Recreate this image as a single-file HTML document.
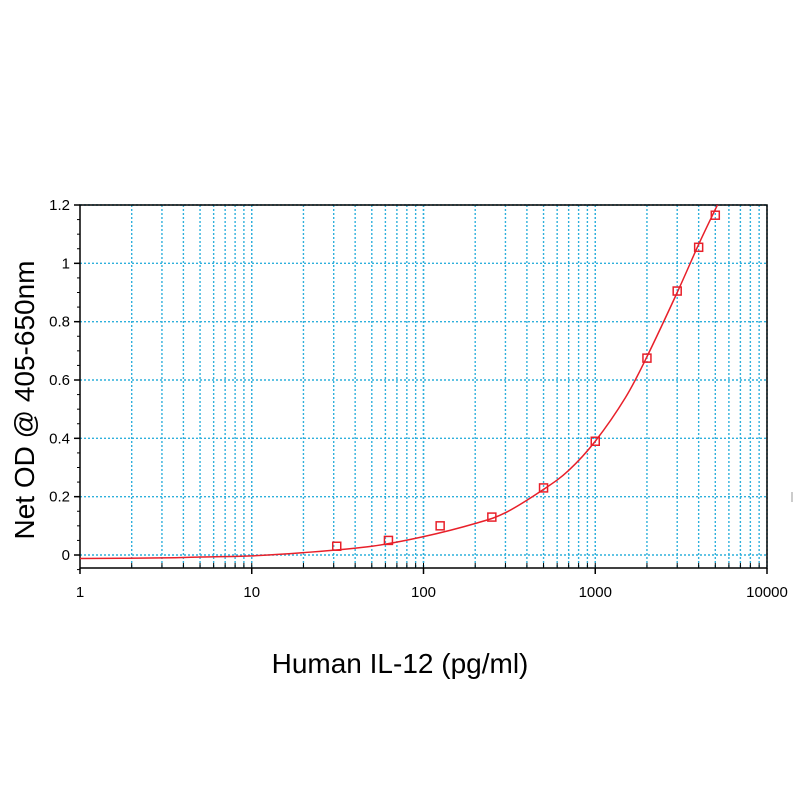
<!DOCTYPE html>
<html><head><meta charset="utf-8"><style>
body{margin:0;background:#fff;}
svg text{font-family:"Liberation Sans",Arial,sans-serif;fill:#000;}
</style></head><body>
<svg width="800" height="800" viewBox="0 0 800 800" xmlns="http://www.w3.org/2000/svg" id="chart">
<g id="grid"></g>
<g id="axes"></g>
<g id="series"></g>
<text x="0" y="0" font-size="28" text-anchor="middle" transform="translate(34,400) rotate(-90)">Net OD @ 405-650nm</text>
<text x="400" y="673" font-size="28" text-anchor="middle">Human IL-12 (pg/ml)</text>
<line x1="792" y1="492" x2="792" y2="502" stroke="#999" stroke-width="1"/>
</svg>
<script>
const xTicks=[1,10,100,1000,10000];
const xTickLabels=["1","10","100","1000","10000"];
const yTicks=[0,0.2,0.4,0.6,0.8,1,1.2];
const yTickLabels=["0","0.2","0.4","0.6","0.8","1","1.2"];
const pointX=[31.25,62.5,125,250,500,1000,2000,3000,4000,5000];
const pointY=[0.03,0.05,0.10,0.13,0.23,0.39,0.675,0.905,1.055,1.165];
const curveX=[1,3,5,10,20,50,100,200,300,500,700,1000,1500,2000,3000,4000,5000,5150];
const curveY=[-0.012,-0.01,-0.007,-0.003,0.008,0.03,0.063,0.108,0.145,0.225,0.29,0.39,0.54,0.68,0.90,1.065,1.185,1.2];

const L=80,R=767,T=205,B=568;
const X0=80,X1=767,Y0=555,Y1=205;
function sx(v){return X0+(Math.log10(v)-0)/4*(X1-X0);}
function sy(v){return Y0+(v-0)/1.2*(Y1-Y0);}
const NS="http://www.w3.org/2000/svg";
function mk(tag,attrs,parent){const e=document.createElementNS(NS,tag);for(const k in attrs)e.setAttribute(k,attrs[k]);parent.appendChild(e);return e;}
const grid=document.getElementById('grid'),axes=document.getElementById('axes'),series=document.getElementById('series');
const gs={stroke:"#2fb0dc","stroke-width":1.4,"stroke-dasharray":"2,2"};
for(let d=0;d<4;d++){for(let m=1;m<=10;m++){const v=Math.pow(10,d)*m;if(m===1&&d===0)continue;
 const x=sx(v);
 const ln=mk('line',Object.assign({x1:x,y1:T,x2:x,y2:B},gs),grid);
 
 
 if(m!==10){const t=mk('line',{x1:x,y1:B,x2:x,y2:B-5,stroke:"#000","stroke-width":1},axes);
 
 }
}}
yTicks.forEach((v,i)=>{const y=sy(v);
 const ln=mk('line',Object.assign({x1:L,y1:y,x2:R,y2:y},gs),grid);
 
 
 const t=mk('line',{x1:L-6,y1:y,x2:L,y2:y,stroke:"#000","stroke-width":1.5},axes);
 
 
 const tx=mk('text',{x:L-10,y:y+5,"font-size":15,"text-anchor":"end"},axes);
 tx.textContent=yTickLabels[i];
 
 
});
for(let v=-0.05;v<=1.2001;v+=0.05){const y=sy(v);
 const t=mk('line',{x1:L-3,y1:y,x2:L,y2:y,stroke:"#000","stroke-width":1},axes);
 
 }
xTicks.forEach((v,i)=>{const x=sx(v);
 const t=mk('line',{x1:x,y1:B,x2:x,y2:B+6,stroke:"#000","stroke-width":1.5},axes);
 
 
 const tx=mk('text',{x:x,y:B+29,"font-size":15,"text-anchor":"middle"},axes);
 tx.textContent=xTickLabels[i];
 
 
});
const frame=mk('rect',{x:L,y:T,width:R-L,height:B-T,fill:"none",stroke:"#000","stroke-width":1.5},axes);


const P=curveX.map((v,i)=>[sx(v),sy(curveY[i])]);
let d="M"+P[0][0]+","+P[0][1];
for(let i=0;i<P.length-1;i++){const p0=P[Math.max(0,i-1)],p1=P[i],p2=P[i+1],p3=P[Math.min(P.length-1,i+2)];
 d+=" C"+(p1[0]+(p2[0]-p0[0])/6)+","+(p1[1]+(p2[1]-p0[1])/6)+" "+(p2[0]-(p3[0]-p1[0])/6)+","+(p2[1]-(p3[1]-p1[1])/6)+" "+p2[0]+","+p2[1];}
const cv=mk('path',{d:d,fill:"none",stroke:"#e8202a","stroke-width":1.5},series);


pointX.forEach((v,i)=>{const x=sx(v),y=sy(pointY[i]);
 const r=mk('rect',{x:x-4,y:y-4,width:8,height:8,fill:"none",stroke:"#e8202a","stroke-width":1.5},series);
 
 
});
</script>
</body></html>
